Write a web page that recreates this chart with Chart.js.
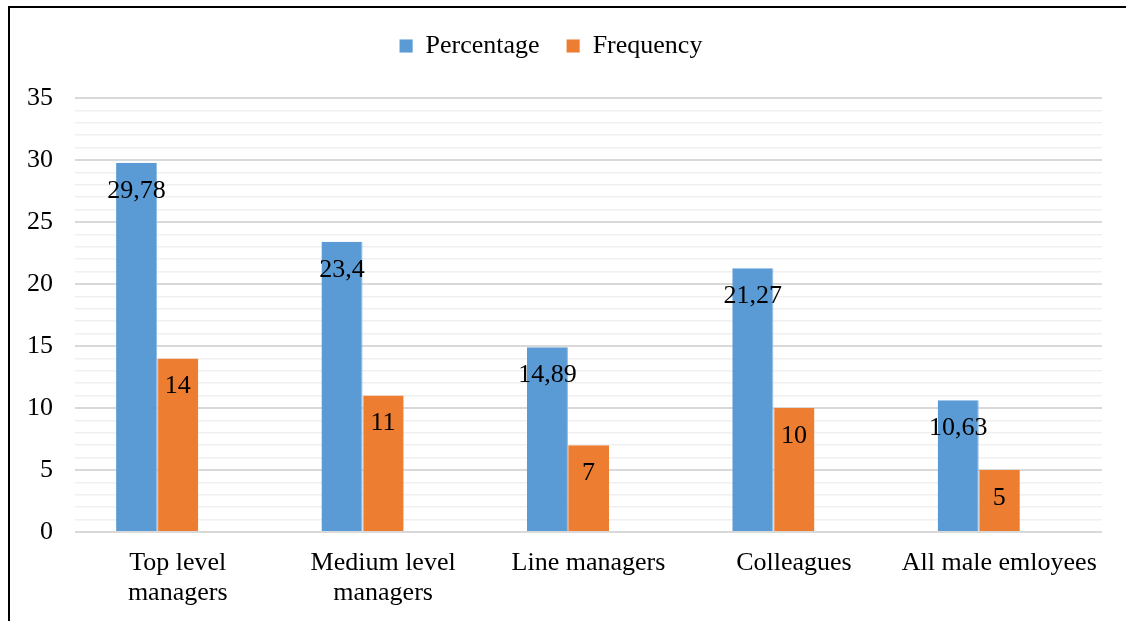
<!DOCTYPE html>
<html>
<head>
<meta charset="utf-8">
<script src="https://cdn.jsdelivr.net/npm/chart.js@4"></script>
<style>
  html, body { margin: 0; padding: 0; background: #fff; overflow: hidden; }
  #frame { position: absolute; left: 8px; top: 6px; width: 1200px; height: 700px; border: 2px solid #000; }
  #wrap { position: absolute; left: 0; top: 0; width: 1126px; height: 621px; }
</style>
</head>
<body>
<div id="frame"></div>
<div id="wrap"><canvas id="grafico"></canvas></div>
<script>
// dados do gráfico
const categorias = [['Top level', 'managers'], ['Medium level', 'managers'], 'Line managers', 'Colleagues', 'All male emloyees'];
const percentagem = [29.78, 23.4, 14.89, 21.27, 10.63];
const frequencia = [14, 11, 7, 10, 5];
const rotulosPercentagem = ['29,78', '23,4', '14,89', '21,27', '10,63'];
const rotulosFrequencia = ['14', '11', '7', '10', '5'];
const serieVazia = [null, null, null, null, null];

const fonte = "'Liberation Serif', 'Times New Roman', serif";

// escreve os valores dentro das barras, perto do topo
const rotulosBarras = {
  id: 'rotulosBarras',
  afterDatasetsDraw(chart) {
    const ctx = chart.ctx;
    ctx.save();
    ctx.font = `26px ${fonte}`;
    ctx.fillStyle = '#000';
    ctx.textAlign = 'center';
    ctx.textBaseline = 'middle';
    [rotulosPercentagem, rotulosFrequencia].forEach((rotulos, i) => {
      chart.getDatasetMeta(i).data.forEach((bar, j) => {
        ctx.fillText(rotulos[j], bar.x, bar.y + 28);
      });
    });
    ctx.restore();
  }
};

// espaço extra entre a legenda e a área do gráfico
const margemLegenda = {
  id: 'margemLegenda',
  beforeInit(chart) {
    const fitOriginal = chart.legend.fit;
    chart.legend.fit = function fit() {
      fitOriginal.bind(chart.legend)();
      this.height += 29;
    };
  }
};

new Chart('grafico', {
  type: 'bar',
  data: {
    labels: categorias,
    datasets: [
      { label: 'Percentage', data: percentagem, backgroundColor: '#5B9BD5', borderColor: '#8fbbe4', borderWidth: { right: 1 } },
      { label: 'Frequency', data: frequencia, backgroundColor: '#ED7D31', borderColor: '#f3a571', borderWidth: { left: 1 } },
      { label: '', data: serieVazia, backgroundColor: 'rgba(0,0,0,0)' }
    ]
  },
  options: {
    responsive: true,
    maintainAspectRatio: false,
    animation: false,
    categoryPercentage: 0.6,
    barPercentage: 1,
    layout: { padding: { top: 6, right: 24, left: 0, bottom: 0 } },
    plugins: {
      tooltip: { enabled: false },
      legend: {
        position: 'top',
        labels: {
          color: '#000',
          font: { family: fonte, size: 26 },
          boxWidth: 13,
          boxHeight: 13,
          padding: 27,
          filter: (item) => item.text !== ''
        }
      }
    },
    scales: {
      x: {
        grid: { display: false, drawTicks: false },
        border: { display: false },
        ticks: {
          color: '#000',
          font: { family: fonte, size: 26, lineHeight: 1.15 },
          padding: 16,
          maxRotation: 0,
          autoSkip: false
        },
        afterFit: (scale) => { scale.height = 89; }
      },
      y: {
        min: 0,
        max: 35,
        grid: {
          drawTicks: false,
          color: (c) => (c.tick && c.tick.value % 5 === 0) ? '#d9d9d9' : '#f0f0f0',
          lineWidth: (c) => (c.tick && c.tick.value % 5 === 0) ? 2 : 1.5
        },
        border: { display: false },
        ticks: {
          stepSize: 1,
          autoSkip: false,
          color: '#000',
          font: { family: fonte, size: 26 },
          padding: 22,
          callback: (v) => v % 5 === 0 ? v : ''
        },
        afterFit: (scale) => { scale.width = 75; }
      }
    }
  },
  plugins: [rotulosBarras, margemLegenda]
});
</script>
</body>
</html>
